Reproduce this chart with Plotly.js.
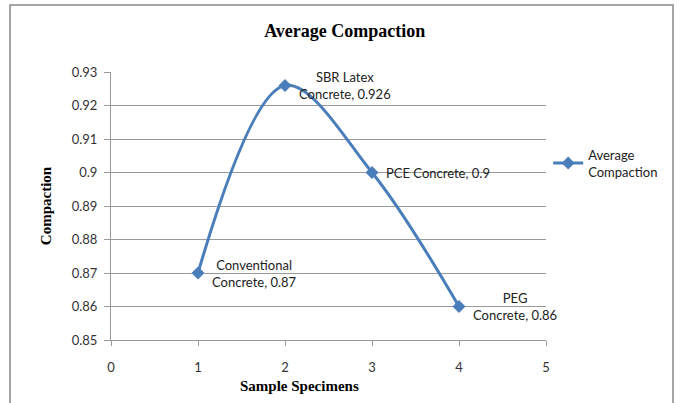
<!DOCTYPE html>
<html>
<head>
<meta charset="utf-8">
<script src="https://cdn.plot.ly/plotly-3.0.1.min.js"></script>
<style>html,body{margin:0;padding:0;background:#fff;}#chart{width:680px;height:403px;}</style>
</head>
<body>
<div id="chart"></div>
<script>
var specimens = [1, 2, 3, 4];
var compaction = [0.87, 0.926, 0.9, 0.86];
var labelNames = ["Conventional<br>Concrete", "SBR Latex<br>Concrete", "PCE Concrete", "PEG<br>Concrete"];
var yTicks = [0.85, 0.86, 0.87, 0.88, 0.89, 0.9, 0.91, 0.92, 0.93];
var xTicks = [0, 1, 2, 3, 4, 5];

var tickFont = {family: "Lato, 'Open Sans', sans-serif", size: 13, color: "#333"};
var serif = "'Liberation Serif', 'Times New Roman', serif";

var trace = {
  x: specimens, y: compaction, type: "scatter", mode: "lines+markers",
  name: "Average<br>Compaction",
  line: {color: "#4A7EBB", width: 3, shape: "spline", smoothing: 1},
  marker: {symbol: "diamond", size: 10, color: "#4A7EBB"}
};

var annotations = specimens.map(function(x, i){
  var lbl = labelNames[i] + ", " + compaction[i];
  return {x: x, y: compaction[i], xref: "x", yref: "y", text: lbl, showarrow: false,
    xanchor: "left", yanchor: "middle", xshift: 12, align: "center",
    font: {family: "Lato, 'Open Sans', sans-serif", size: 13, color: "#222"}};
});
annotations.push({x: 0.434, y: -0.172, xref: "paper", yref: "paper", text: "<b>Sample Specimens</b>",
  showarrow: false, xanchor: "center", yanchor: "middle", font: {family: serif, size: 15, color: "#000"}});

var layout = {
  width: 680, height: 403,
  margin: {l: 111, r: 134, t: 72, b: 63},
  paper_bgcolor: "#fff", plot_bgcolor: "#fff",
  title: {text: "<b>Average Compaction</b>", x: 0.507, xanchor: "center", y: 0.923, yanchor: "middle",
    font: {family: serif, size: 18, color: "#000"}},
  xaxis: {range: [0, 5], tickvals: xTicks, ticktext: xTicks.map(String), showgrid: false, zeroline: false,
    showline: true, linecolor: "#999", linewidth: 1, ticks: "outside", ticklen: 5, tickcolor: "#999",
    ticklabelstandoff: 10, tickfont: tickFont},
  yaxis: {range: [0.85, 0.93], tickvals: yTicks, ticktext: yTicks.map(function(v){return String(v);}),
    showgrid: true, gridcolor: "#999", gridwidth: 1, zeroline: false,
    showline: true, linecolor: "#999", linewidth: 1, ticks: "outside", ticklen: 6, tickcolor: "#999",
    ticklabelstandoff: 4, tickfont: tickFont,
    title: {text: "<b>Compaction</b>", standoff: 16, font: {family: serif, size: 15, color: "#000"}}},
  showlegend: true,
  legend: {x: 1.005, y: 0.66, xanchor: "left", yanchor: "middle", bgcolor: "rgba(0,0,0,0)",
    font: {family: "Lato, 'Open Sans', sans-serif", size: 13, color: "#222"}, itemwidth: 30},
  annotations: annotations,
  shapes: [{type: "rect", xref: "paper", yref: "paper", x0: -101/435, x1: 562/435, y0: -70/268, y1: 335/268,
    line: {color: "#888", width: 1.5}, fillcolor: "rgba(0,0,0,0)"}]
};

Plotly.newPlot("chart", [trace], layout, {displayModeBar: false, staticPlot: true});
</script>
</body>
</html>
